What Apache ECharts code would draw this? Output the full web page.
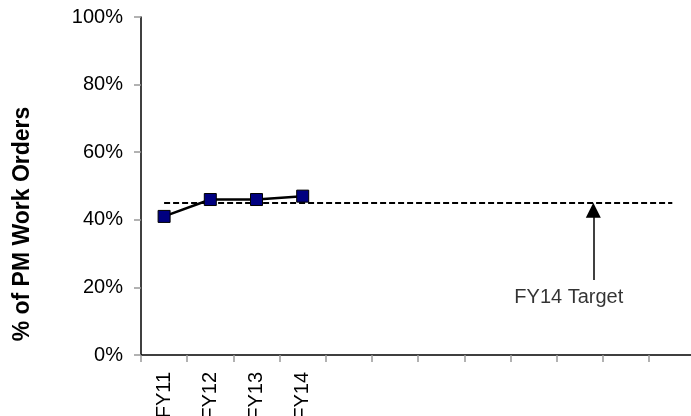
<!DOCTYPE html>
<html>
<head>
<meta charset="utf-8">
<script src="https://cdn.jsdelivr.net/npm/echarts@6/dist/echarts.min.js"></script>
<style>
  html, body { margin: 0; padding: 0; background: #fff; }
  #chart { width: 691px; height: 416px; }
</style>
</head>
<body>
<div id="chart"></div>
<script>
// Fiscal-year slots on the x axis (later slots are still empty)
const categories = ['FY11', 'FY12', 'FY13', 'FY14', '', '', '', '', '', '', '', ''];
// Share of work orders that are preventive maintenance, in percent
const pmShare = [41, 46, 46, 47];
// FY14 goal, drawn as a dashed reference line
const targetValue = 45;
const targetLabel = 'FY14 Target';
// Y axis tick range
const yTicks = { min: 0, max: 100, step: 20 };
// Annotation arrow: position along a 0..12 helper axis, tail value
const arrowX = 9.79;
const arrowTail = 22.2;
const labelPos = [9.26, 16.9];

const FONT = 'Liberation Sans, Arial, sans-serif';

const chart = echarts.init(document.getElementById('chart'));
chart.setOption({
  animation: false,
  backgroundColor: '#fff',
  grid: { left: 141, top: 17, bottom: 61, right: -4.4, outerBoundsMode: 'none', containLabel: false },
  xAxis: [
    {
      type: 'category',
      data: categories,
      boundaryGap: true,
      axisLine: { show: true, lineStyle: { color: '#000', width: 1.5 } },
      axisTick: { show: true, alignWithLabel: false, length: 7, inside: false, lineStyle: { color: '#999', width: 1.5 } },
      axisLabel: { interval: 0, rotate: 90, margin: 17, color: '#000', fontSize: 20, fontFamily: FONT },
      splitLine: { show: false }
    },
    {
      type: 'value', min: 0, max: 12, show: false
    }
  ],
  yAxis: {
    type: 'value',
    min: yTicks.min, max: yTicks.max, interval: yTicks.step,
    axisLine: { show: true, lineStyle: { color: '#000', width: 1.5 } },
    axisTick: { show: true, length: 7, lineStyle: { color: '#999', width: 1.5 } },
    axisLabel: { formatter: '{value}%', margin: 18, color: '#000', fontSize: 20, fontFamily: FONT },
    splitLine: { show: false }
  },
  graphic: [{
    type: 'text',
    x: 23, y: 224,
    rotation: Math.PI / 2,
    style: {
      text: '% of PM Work Orders',
      font: 'bold 23px ' + FONT,
      fill: '#000',
      align: 'center',
      verticalAlign: 'middle'
    }
  }],
  series: [
    {
      name: 'PM share',
      type: 'line',
      data: pmShare,
      symbol: 'rect',
      symbolSize: 12,
      lineStyle: { color: '#000', width: 2.5 },
      itemStyle: { color: '#000080', borderColor: '#000', borderWidth: 1 },
      z: 5,
      markLine: {
        silent: true,
        symbol: ['none', 'none'],
        label: { show: false },
        lineStyle: { color: '#000', width: 2, type: [6, 3] },
        data: [[
          { coord: [0, targetValue] },
          { coord: [categories.length - 1, targetValue] }
        ]]
      }
    },
    {
      name: 'arrow',
      type: 'line',
      xAxisIndex: 1,
      data: [],
      markLine: {
        silent: true,
        symbol: ['none', 'triangle'],
        symbolSize: [15, 15],
        label: { show: false },
        lineStyle: { color: '#000', width: 1.5, type: 'solid' },
        itemStyle: { color: '#000' },
        data: [[
          { coord: [arrowX, arrowTail] },
          { coord: [arrowX, targetValue - 2.2] }
        ]]
      }
    },
    {
      name: 'target label',
      type: 'scatter',
      xAxisIndex: 1,
      symbolSize: 0,
      data: [labelPos],
      label: {
        show: true, position: 'inside', formatter: targetLabel,
        color: '#000', fontSize: 20, fontFamily: FONT
      }
    }
  ]
});
</script>
</body>
</html>
